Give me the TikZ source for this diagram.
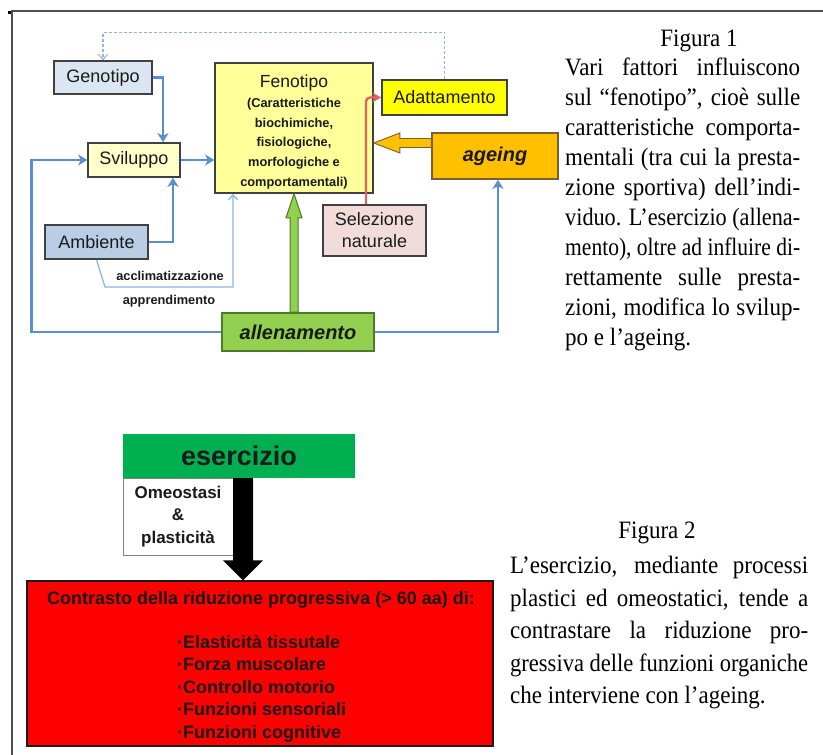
\documentclass[tikz,border=0pt]{standalone}
\usepackage{fontspec}
\usepackage{graphicx}
\setmainfont{Liberation Serif}
\newfontfamily\capfont{Liberation Serif}[FakeStretch=0.92]
\newfontfamily\arial{Liberation Sans}
\usetikzlibrary{arrows.meta,calc}
\definecolor{bluearr}{HTML}{5B8ED0}
\definecolor{lightarr}{HTML}{8EB4E3}
\definecolor{boxborder}{HTML}{404040}
\definecolor{genofill}{HTML}{DCE6F2}
\definecolor{ambfill}{HTML}{B9CDE5}
\definecolor{svilfill}{HTML}{FFFFCC}
\definecolor{fenofill}{HTML}{FFFF99}
\definecolor{adatfill}{HTML}{FFFF00}
\definecolor{agefill}{HTML}{FFC000}
\definecolor{ageborder}{HTML}{7A6030}
\definecolor{selfill}{HTML}{F2DCDB}
\definecolor{allefill}{HTML}{92D050}
\definecolor{greenborder}{HTML}{4F7A28}
\definecolor{redline}{HTML}{DE6262}
\definecolor{eserfill}{HTML}{00B050}
\definecolor{txt}{HTML}{1A1A1A}
\definecolor{frame}{HTML}{505050}
\newlength\jlw
\newcommand\jline[2]{\settowidth\jlw{#2}\ifdim\jlw>#1\relax\resizebox{#1}{\height}{#2}\else\makebox[#1][s]{#2}\fi}
\begin{document}
\begin{tikzpicture}[x=1pt,y=-1pt,
  box/.style={draw=boxborder, line width=1.6pt, inner sep=0pt, font=\arial\fontsize{18}{22}\selectfont, text=txt},
  bluecon/.style={draw=bluearr, line width=2.8pt, -{Stealth[length=9pt,width=11pt,inset=2.5pt]}},
  lightcon/.style={draw=lightarr, line width=1.3pt, -{Straight Barb[length=5pt,width=9pt]}},
  dashcon/.style={draw=lightarr, line width=1.1pt, dash pattern=on 3pt off 2pt, -{Straight Barb[length=5pt,width=9pt]}},
  redcon/.style={draw=redline, line width=2.4pt, rounded corners=4pt, -{Stealth[length=9pt,width=10pt,inset=2.5pt]}},
  captxt/.style={font=\capfont\fontsize{25}{30}\selectfont, inner sep=0pt, anchor=base west, text=black},
  lbl/.style={font=\arial\bfseries\fontsize{12.8}{15}\selectfont, inner sep=0pt, text=txt}
]
\useasboundingbox (0,0) rectangle (823,755);
% frame
\draw[frame, line width=1.2pt] (12,755) -- (12,11) -- (823,11);
\fill[black] (8,11) rectangle (11,14);

% ---------- Figure 1 ----------
\node[box, fill=genofill, minimum width=98pt, minimum height=33pt] (geno) at (103,77.5) {Genotipo};
\node[box, fill=svilfill, minimum width=92pt, minimum height=34pt] (svil) at (134,160) {Sviluppo};
\node[box, fill=fenofill, minimum width=158pt, minimum height=130pt] (feno) at (294,128) {};
\node[inner sep=0pt, text width=156pt, align=center, text=txt, font=\arial] (fenotxt) at (294,132)
  {{\fontsize{17.5}{21}\selectfont Fenotipo\par}
   {\bfseries\fontsize{12.8}{19.8}\selectfont (Caratteristiche\\ biochimiche,\\ fisiologiche,\\ morfologiche e\\ comportamentali)\par}};
\node[box, fill=adatfill, minimum width=125pt, minimum height=35pt] (adat) at (444.5,97.5) {Adattamento};
\node[box, fill=agefill, draw=ageborder, minimum width=126pt, minimum height=46pt, font=\arial\bfseries\itshape\fontsize{20}{24}\selectfont] (age) at (495,156) {ageing};
\node[box, fill=selfill, minimum width=103pt, minimum height=51pt, align=center, font=\arial\fontsize{18}{22}\selectfont] (sel) at (374.5,230.5) {Selezione\\naturale};
\node[box, fill=allefill, draw=greenborder, minimum width=152pt, minimum height=38pt, font=\arial\bfseries\itshape\fontsize{20}{24}\selectfont] (alle) at (298,332) {allenamento};
\node[box, fill=ambfill, minimum width=103pt, minimum height=34pt] (amb) at (96.5,242) {Ambiente};
\node[lbl] (accl) at (170,276) {acclimatizzazione};
\node[lbl] (appr) at (169,301) {apprendimento};

% connectors
\draw[dashcon] (adat.north) -- ++(0,-47) -| (geno.north);
\draw[bluecon] (geno.east) -| ([xshift=29pt]svil.north);
\draw[bluecon] (svil.east) -- (svil.east -| feno.west);
\draw[bluecon] (amb.east) -| ([xshift=39pt]svil.south);
\draw[bluecon] (alle.west) -- ++(-190,0) |- (svil.west);
\draw[bluecon] (alle.east) -| ([xshift=3pt]age.south);
\coordinate (thinc) at (105,287);
\draw[lightcon] (amb.south) -- (thinc) -| ([xshift=-61pt]feno.south);
\draw[redcon] ([xshift=-8.5pt]sel.north) |- (adat.west);
% orange block arrow ageing -> Fenotipo
\coordinate (os) at ([yshift=13pt]age.west);
\coordinate (ot) at (os -| feno.east);
\filldraw[fill=agefill, draw=ageborder, line width=0.9pt]
  ($(os)+(0,-4.5)$) -- ($(ot)+(26,-4.5)$) -- ($(ot)+(26,-10)$) -- (ot) -- ($(ot)+(26,10)$) -- ($(ot)+(26,4.5)$) -- ($(os)+(0,4.5)$) -- cycle;
% green block arrow allenamento -> Fenotipo
\coordinate (gt) at (feno.south);
\coordinate (gs) at (feno.south |- alle.north);
\filldraw[fill=allefill, draw=greenborder, line width=1pt]
  ($(gs)+(-4,0)$) -- ($(gt)+(-4,24)$) -- ($(gt)+(-8,24)$) -- (gt) -- ($(gt)+(8,24)$) -- ($(gt)+(4,24)$) -- ($(gs)+(4,0)$) -- cycle;

% caption 1
\node[font=\capfont\fontsize{25}{30}\selectfont, inner sep=0pt, anchor=base] (f1) at (699,46) {Figura 1};
\node[captxt] (c1) at (565,75) {\jline{235pt}{Vari fattori influiscono}};
\node[captxt] (c2) at (565,105) {\jline{235pt}{sul “fenotipo”, cioè sulle}};
\node[captxt] (c3) at (565,135) {\jline{235pt}{caratteristiche comporta-}};
\node[captxt] (c4) at (565,165) {\jline{235pt}{mentali (tra cui la presta-}};
\node[captxt] (c5) at (565,195) {\jline{235pt}{zione sportiva) dell’indi-}};
\node[captxt] (c6) at (565,225) {\jline{235pt}{viduo. L’esercizio (allena-}};
\node[captxt] (c7) at (565,255) {\jline{235pt}{mento), oltre ad influire di-}};
\node[captxt] (c8) at (565,285) {\jline{235pt}{rettamente sulle presta-}};
\node[captxt] (c9) at (565,315) {\jline{235pt}{zioni, modifica lo svilup-}};
\node[captxt] (c10) at (565,345) {po e l’ageing.};

% ---------- Figure 2 ----------
\node[fill=eserfill, minimum width=232pt, minimum height=44pt, inner sep=0pt, text=txt, font=\arial\bfseries\fontsize{27}{30}\selectfont] (eser) at (239,456) {esercizio};
\node[box, fill=white, draw=gray, line width=1pt, minimum width=110pt, minimum height=77pt, align=center, font=\arial\bfseries\fontsize{17}{22.5}\selectfont] (omeo) at (178,516.5) {Omeostasi\\\&\\plasticità};
\node[draw=txt, line width=1.5pt, fill=red, minimum width=466pt, minimum height=165pt, inner sep=0pt] (redb) at (260,663.5) {};
\node[inner sep=0pt, text=txt, font=\arial\bfseries\fontsize{18}{20}\selectfont] (tit) at (261,600) {Contrasto della riduzione progressiva (> 60 aa) di:};
\node[inner sep=0pt, text=txt, align=left, anchor=north west, font=\arial\bfseries\fontsize{18}{22.5}\selectfont] (bul) at (177,635)
  {·Elasticità tissutale\\·Forza muscolare\\·Controllo motorio\\·Funzioni sensoriali\\·Funzioni cognitive};
% black block arrow
\coordinate (bs) at ([xshift=4pt]eser.south);
\coordinate (bt) at (bs |- redb.north);
\fill[black] ($(bs)+(-10,0)$) -- ($(bs)+(10,0)$) -- ($(bt)+(10,-20)$) -- ($(bt)+(20,-20)$) -- (bt) -- ($(bt)+(-20,-20)$) -- ($(bt)+(-10,-20)$) -- cycle;

% caption 2
\node[font=\capfont\fontsize{25}{30}\selectfont, inner sep=0pt, anchor=base] (f2) at (657,538) {Figura 2};
\node[captxt] (d1) at (510,573) {\jline{298pt}{L’esercizio, mediante processi}};
\node[captxt] (d2) at (510,606) {\jline{298pt}{plastici ed omeostatici, tende a}};
\node[captxt] (d3) at (510,638) {\jline{298pt}{contrastare la riduzione pro-}};
\node[captxt] (d4) at (510,671) {\jline{298pt}{gressiva delle funzioni organiche}};
\node[captxt] (d5) at (510,703) {che interviene con l’ageing.};
\end{tikzpicture}
\end{document}
